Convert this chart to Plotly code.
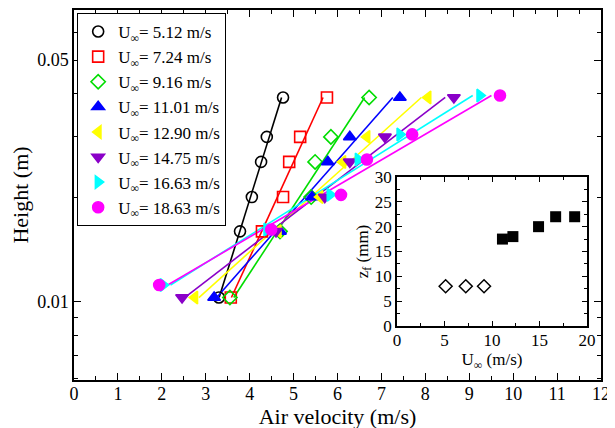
import numpy as np
import plotly.graph_objects as go

labels = ["5.12", "7.24", "9.16", "11.01", "12.90", "14.75", "16.63", "18.63"]
colors = ["black", "red", "#00dd00", "blue", "yellow", "#8a00c8", "cyan", "magenta"]
symbols = ["circle-open", "square-open", "diamond-open", "triangle-up", "triangle-left",
           "triangle-down", "triangle-right", "circle"]

z_std = [0.0103, 0.016, 0.0201, 0.0254, 0.030, 0.039]
z_low = [0.0112, 0.0162, 0.0204, 0.0258, 0.0305, 0.0395]
heights = [z_std, z_std, z_std, z_std, z_std, z_std, z_low, z_low]

vel = [
    [3.30, 3.78, 4.05, 4.26, 4.39, 4.76],
    [3.57, 4.28, 4.76, 4.90, 5.15, 5.76],
    [3.55, 4.69, 5.40, 5.49, 5.85, 6.72],
    [3.19, 4.69, 5.42, 5.78, 6.28, 7.42],
    [2.75, 4.65, 5.60, 6.12, 6.67, 8.06],
    [2.46, 4.60, 5.71, 6.28, 7.08, 8.65],
    [2.03, 4.39, 5.83, 6.47, 7.42, 9.24],
    [1.94, 4.49, 6.08, 6.67, 7.70, 9.70],
]

inset_u_open = [5.12, 7.24, 9.16]
inset_z_open = [8, 8, 8]
inset_u_fill = [11.1, 12.2, 14.9, 16.7, 18.7]
inset_z_fill = [17.5, 18, 20, 22, 22]

fig = go.Figure()
for i in range(len(labels)):
    x = np.array(vel[i]); z = np.array(heights[i])
    a, b = np.polyfit(np.log10(z), x, 1)
    zl = np.array([z.min(), z.max()])
    fig.add_trace(go.Scatter(x=a*np.log10(zl)+b, y=zl, mode="lines",
                             line=dict(color=colors[i], width=1.6), showlegend=False))
for i in range(len(labels)):
    fig.add_trace(go.Scatter(x=vel[i], y=heights[i], mode="markers",
                             name="U<sub>∞</sub>= " + labels[i] + " m/s",
                             marker=dict(symbol=symbols[i], color=colors[i], size=11,
                                         line=dict(color=colors[i], width=1.6))))
fig.add_trace(go.Scatter(x=inset_u_open, y=inset_z_open, mode="markers", xaxis="x2", yaxis="y2",
                         showlegend=False,
                         marker=dict(symbol="diamond-open", color="black", size=10, line=dict(width=1.5))))
fig.add_trace(go.Scatter(x=inset_u_fill, y=inset_z_fill, mode="markers", xaxis="x2", yaxis="y2",
                         showlegend=False, marker=dict(symbol="square", color="black", size=11)))

ax = dict(showline=True, linecolor="black", linewidth=1.5, mirror="ticks", ticks="inside",
          tickcolor="black", showgrid=False, zeroline=False, ticklen=7, automargin=False)
fig.update_layout(
    width=615, height=428, margin=dict(l=66, r=22, t=2, b=56),
    paper_bgcolor="white", plot_bgcolor="white",
    font=dict(family="Liberation Serif", size=18, color="black"),
    xaxis=dict(ax, range=[0, 12], dtick=1, ticklabelstandoff=-3,
               title=dict(text="Air velocity (m/s)", standoff=0),
               minor=dict(dtick=0.5, ticks="inside", ticklen=4, tickcolor="black")),
    yaxis=dict(ax, type="log", range=[np.log10(0.00595), np.log10(0.0698)],
               tickvals=[0.01, 0.05], ticktext=["0.01", "0.05"],
               title=dict(text="Height (m)", standoff=6),
               minor=dict(ticks="inside", ticklen=4, tickcolor="black",
                          tickvals=[0.006, 0.007, 0.008, 0.009, 0.02, 0.03, 0.04, 0.06])),
    xaxis2=dict(ax, domain=[(397-74)/527, (587-74)/527], anchor="y2", range=[0, 20], dtick=5,
                ticklen=5, tickfont=dict(size=17), ticklabelstandoff=-2,
                title=dict(text="U<sub>∞</sub> (m/s)", standoff=0, font=dict(size=17)),
                minor=dict(dtick=2.5, ticks="inside", ticklen=3, tickcolor="black")),
    yaxis2=dict(ax, domain=[(380-326)/370, (380-177)/370], anchor="x2", range=[0, 30], dtick=5,
                ticklen=5, tickfont=dict(size=17),
                title=dict(text="z<sub>f</sub> (mm)", standoff=2, font=dict(size=17)),
                minor=dict(dtick=2.5, ticks="inside", ticklen=3, tickcolor="black")),
    legend=dict(x=0.006, y=0.992, xanchor="left", yanchor="top", bordercolor="black",
                borderwidth=1, bgcolor="white", font=dict(size=17), tracegroupgap=0,
                itemwidth=30),
)
fig.write_html("out.html")
